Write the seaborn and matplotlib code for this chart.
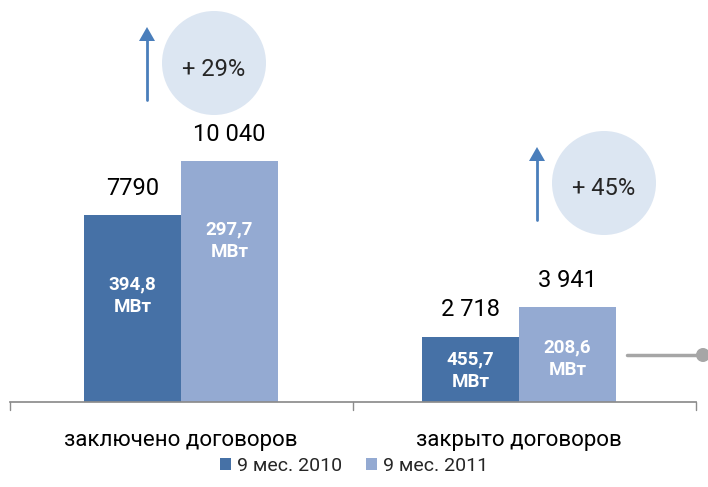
import numpy as np
import pandas as pd
import matplotlib
matplotlib.use('Agg')
import matplotlib.pyplot as plt
import seaborn as sns
from matplotlib.patches import Ellipse, Polygon
from matplotlib.lines import Line2D

# данные
categories = ['заключено договоров', 'закрыто договоров']
periods = ['9 мес. 2010', '9 мес. 2011']
counts_2010 = [7790, 2718]
counts_2011 = [10040, 3941]
count_labels_2010 = ['7790', '2 718']
count_labels_2011 = ['10 040', '3 941']
power_2010 = ['394,8\nМВт', '455,7\nМВт']
power_2011 = ['297,7\nМВт', '208,6\nМВт']
growth = ['+ 29%', '+ 45%']

df = pd.DataFrame({
    'cat': categories * 2,
    'period': [periods[0]] * 2 + [periods[1]] * 2,
    'val': counts_2010 + counts_2011,
})

sns.set_theme(style='white')
plt.rcParams['font.family'] = ['Roboto', 'DejaVu Sans']

colors = ['#4671A6', '#94AAD2']
W, H = 708, 487
fig = plt.figure(figsize=(W / 100, H / 100), dpi=100)
ax = fig.add_axes([10 / W, (H - 402) / H, 686 / W, 402 / H])

sns.barplot(data=df, x='cat', y='val', hue='period', palette=colors,
            width=0.574, gap=0, saturation=1, linewidth=0, ax=ax, legend=True)

ax.set_xlim(-0.506, 1.524)
ax.set_ylim(0, 16750)
for s in ['top', 'right', 'left']:
    ax.spines[s].set_visible(False)
ax.spines['bottom'].set_color('#8c8c8c')
ax.set_yticks([])
ax.set_xticks([])
ax.set_xlabel('')
ax.set_ylabel('')

# деления оси
trans = matplotlib.transforms.blended_transform_factory(ax.transData, fig.transFigure)
for xt in [-0.506, 0.509, 1.524]:
    fig.add_artist(Line2D([xt, xt], [(H - 402) / H, (H - 410) / H], transform=trans,
                          color='#8c8c8c', lw=1))

# подписи категорий
for i, c in enumerate(categories):
    ax.text(i, -0.095, c, transform=ax.get_xaxis_transform(), ha='center', va='center',
            fontsize=16, color='black')

# подписи значений
c0, c1 = ax.containers[0], ax.containers[1]
ax.bar_label(c0, labels=count_labels_2010, padding=11, fontsize=17, color='black')
ax.bar_label(c1, labels=count_labels_2011, padding=11, fontsize=17, color='black')

inner_frac = [[0.57, 0.48], [0.67, 0.46]]
for k, (cont, labs) in enumerate([(c0, power_2010), (c1, power_2011)]):
    for j, (bar, lab) in enumerate(zip(cont, labs)):
        x = bar.get_x() + bar.get_width() / 2
        y = bar.get_height() * inner_frac[k][j]
        ax.text(x, y, lab, ha='center', va='center', color='white',
                fontsize=13.5, fontweight='bold', linespacing=1.35)

# кружки с приростом и стрелки
circles = [(214, 63), (604, 183)]
arrows = [(147, 100, 27), (537, 220, 147)]
for (cx, cy), g in zip(circles, growth):
    fig.add_artist(Ellipse((cx / W, 1 - cy / H), 104 / W, 104 / H,
                           transform=fig.transFigure, facecolor='#DCE6F2', edgecolor='none'))
    fig.text(cx / W, 1 - (cy + 6) / H, g, ha='center', va='center', fontsize=17)
for ax_x, y0, y1 in arrows:
    fig.add_artist(Line2D([ax_x / W, ax_x / W], [1 - y0 / H, 1 - (y1 + 12) / H],
                          transform=fig.transFigure, color='#4A7EBB', lw=2))
    fig.add_artist(Polygon(
        [[(ax_x - 8) / W, 1 - (y1 + 14) / H], [(ax_x + 8) / W, 1 - (y1 + 14) / H],
         [ax_x / W, 1 - y1 / H]], closed=True, transform=fig.transFigure,
        facecolor='#4A7EBB', edgecolor='none'))

# серая линия справа
fig.add_artist(Line2D([627 / W, 697 / W], [1 - 355 / H, 1 - 355 / H],
                      transform=fig.transFigure, color='#A6A6A6', lw=2.5))
fig.add_artist(Ellipse((703 / W, 1 - 355 / H), 14 / W, 14 / H,
                       transform=fig.transFigure, facecolor='#A6A6A6', edgecolor='none'))

# легенда
handles, labels = ax.get_legend_handles_labels()
ax.get_legend().remove()
fig.legend(handles, labels, loc='center', bbox_to_anchor=(354 / W, 1 - 466 / H), ncol=2,
           frameon=False, fontsize=14, handlelength=0.6, handleheight=0.6,
           handletextpad=0.3, columnspacing=1.2)

fig.savefig('out.png', dpi=100)
